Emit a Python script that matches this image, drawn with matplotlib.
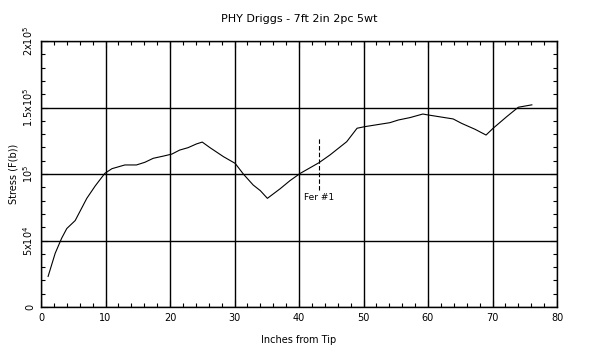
import matplotlib
matplotlib.use("Agg")
import matplotlib.pyplot as plt
from matplotlib.ticker import MultipleLocator, FixedLocator

inches = [1.1, 2.2, 3.2, 4.0, 5.3, 7.1, 8.4, 9.9, 11.0, 13.0, 14.8, 16.1, 17.4, 19.0,
          20.3, 21.5, 22.8, 24.1, 25.0, 26.2, 28.3, 30.1, 31.4, 32.9, 34.0, 35.1,
          37.1, 38.6, 40.2, 43.1, 44.8, 47.4, 49.0, 50.2, 54.1, 55.4, 57.2, 59.2,
          60.0, 63.9, 65.2, 67.3, 69.0, 70.1, 72.2, 74.0, 76.1]
stress = [23000, 40400, 51700, 59000, 65000, 81700, 91000, 100500, 104000, 106800,
          106800, 108800, 111800, 113500, 115000, 118000, 119800, 122600, 124000,
          119800, 113000, 108000, 99800, 91700, 87500, 81700, 89000, 95000, 100500,
          108500, 114300, 124300, 134400, 135600, 138600, 140600, 142400, 145100,
          144400, 141400, 138100, 133600, 129300, 134400, 143100, 150200, 152000]

ferrule_x = [43.1]
ferrule_labels = ["Fer #1"]
ferrule_top = 128000
ferrule_bottom = 88000

xticks = [0, 10, 20, 30, 40, 50, 60, 70, 80]
yticks = [0, 50000, 100000, 150000, 200000]
ytick_labels = ["0", r"5x10$^4$", r"10$^5$", r"1.5x10$^5$", r"2x10$^5$"]

fig = plt.figure(figsize=(6, 3.5), dpi=100)
ax = fig.add_axes([41/600, 1-307/350, (557-41)/600, (307-41)/350])
ax.plot(inches, stress, color="black", lw=0.8)
for fx, fl in zip(ferrule_x, ferrule_labels):
    ax.plot([fx, fx], [ferrule_bottom, ferrule_top], color="black", lw=0.8, ls=(0, (4, 2)))
    ax.text(fx, ferrule_bottom - 2000, fl, ha="center", va="top", fontsize=6.5)

ax.set_xlim(0, 80)
ax.set_ylim(0, 200000)
ax.xaxis.set_major_locator(FixedLocator(xticks))
ax.xaxis.set_minor_locator(MultipleLocator(2))
ax.yaxis.set_major_locator(FixedLocator(yticks))
ax.yaxis.set_minor_locator(MultipleLocator(10000))
ax.set_yticklabels(ytick_labels, rotation=90, va="center", fontsize=7)
ax.set_xticklabels([str(t) for t in xticks], fontsize=7)
ax.tick_params(which="both", direction="in", top=True, right=True, color="black")
ax.tick_params(which="major", length=5, width=0.8, pad=4)
ax.tick_params(which="minor", length=3, width=0.8)
ax.grid(True, which="major", color="black", lw=1.0)
for s in ax.spines.values():
    s.set_linewidth(1.0)

ax.set_title("PHY Driggs - 7ft 2in 2pc 5wt", fontsize=8, pad=14)
ax.set_xlabel("Inches from Tip", fontsize=7, labelpad=9)
ax.set_ylabel("Stress (F(b))", fontsize=7, labelpad=2)

fig.savefig("out.png", dpi=100)
